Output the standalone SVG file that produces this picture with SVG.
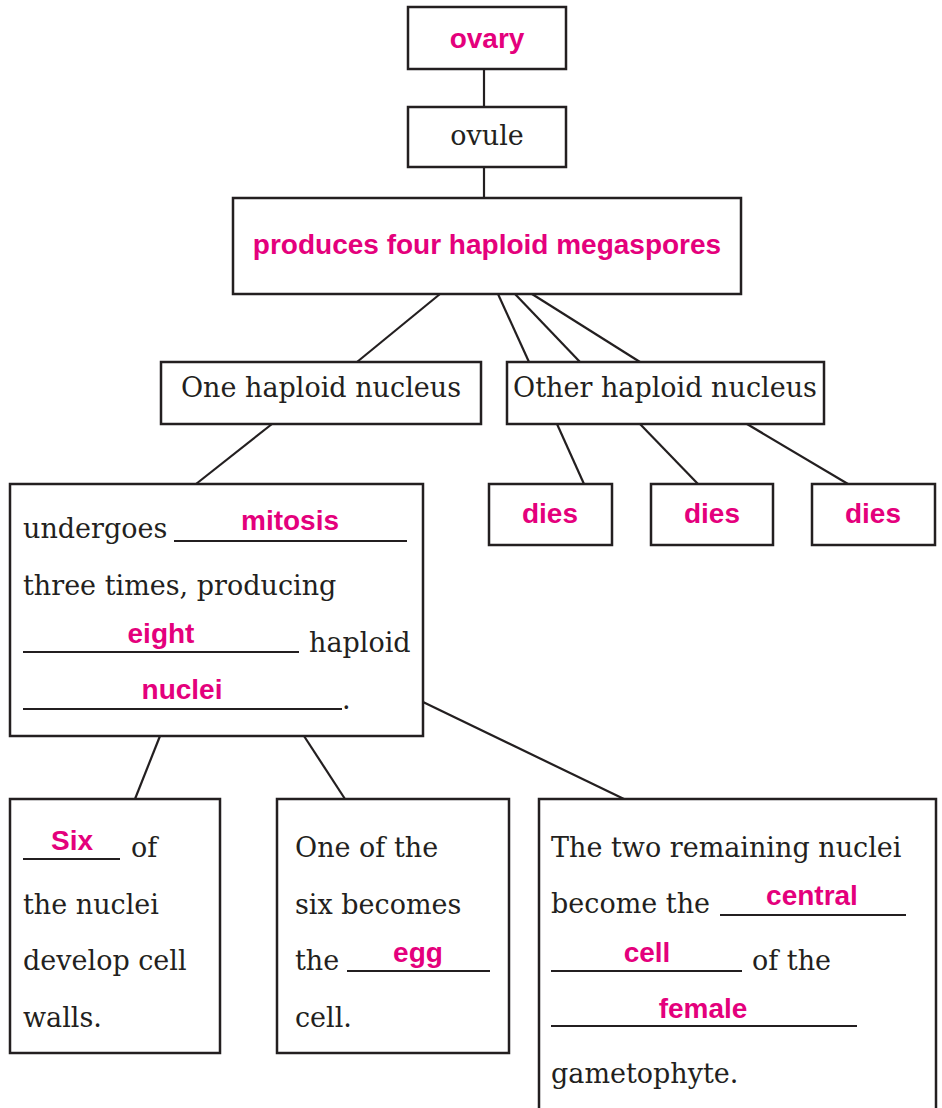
<svg xmlns="http://www.w3.org/2000/svg" width="942" height="1108" viewBox="0 0 942 1108">
<style>
.box{fill:#fff;stroke:#231f20;stroke-width:2.5}
.c line{stroke:#231f20;stroke-width:2.2}
.ul{stroke:#231f20;stroke-width:2}
.t{font-family:"DejaVu Serif",serif;font-size:27px;fill:#231f20}
.p{font-family:"Liberation Sans",Arial,sans-serif;font-size:28px;font-weight:bold;fill:#e4007c}
.m{text-anchor:middle}
</style>
<rect width="942" height="1108" fill="#fff"/>
<g class="c" id="connectors">
<line x1="484" y1="69" x2="484" y2="107"/>
<line x1="484" y1="167" x2="484" y2="198"/>
<line x1="440" y1="294" x2="357" y2="362"/>
<line x1="498" y1="294" x2="529" y2="362"/>
<line x1="515" y1="294" x2="580" y2="362"/>
<line x1="532" y1="294" x2="640" y2="362"/>
<line x1="272" y1="424" x2="196" y2="484"/>
<line x1="557" y1="424" x2="584" y2="484"/>
<line x1="640" y1="424" x2="698" y2="484"/>
<line x1="747" y1="424" x2="848" y2="484"/>
<line x1="160" y1="736" x2="135" y2="799"/>
<line x1="304" y1="736" x2="345" y2="799"/>
<line x1="423" y1="702" x2="624" y2="799"/>
</g>
<g id="ovary"><rect class="box" x="408" y="7" width="158" height="62"/><text class="p m" x="487" y="48">ovary</text></g>
<g id="ovule"><rect class="box" x="408" y="107" width="158" height="60"/><text class="t m" x="487" y="145">ovule</text></g>
<g id="megaspores"><rect class="box" x="233" y="198" width="508" height="96"/><text class="p m" x="487" y="254">produces four haploid megaspores</text></g>
<g id="one-nucleus"><rect class="box" x="161" y="362" width="320" height="62"/><text class="t m" x="321" y="397">One haploid nucleus</text></g>
<g id="other-nucleus"><rect class="box" x="507" y="362" width="317" height="62"/><text class="t m" x="665" y="397">Other haploid nucleus</text></g>
<g id="dies1"><rect class="box" x="489" y="484" width="123" height="61"/><text class="p m" x="550" y="523">dies</text></g>
<g id="dies2"><rect class="box" x="651" y="484" width="122" height="61"/><text class="p m" x="712" y="523">dies</text></g>
<g id="dies3"><rect class="box" x="812" y="484" width="123" height="61"/><text class="p m" x="873" y="523">dies</text></g>
<g id="mitosis-box"><rect class="box" x="10" y="484" width="413" height="252"/>
<text class="t" x="23" y="538">undergoes</text><line class="ul" x1="174" y1="541" x2="407" y2="541"/><text class="p m" x="290" y="530">mitosis</text>
<text class="t" x="23" y="595">three times, producing</text>
<line class="ul" x1="23" y1="652" x2="299" y2="652"/><text class="p m" x="161" y="643">eight</text><text class="t" x="309" y="652">haploid</text>
<line class="ul" x1="23" y1="709" x2="342" y2="709"/><text class="t" x="342" y="709">.</text><text class="p m" x="182" y="699">nuclei</text>
</g>
<g id="six-box"><rect class="box" x="10" y="799" width="210" height="254"/>
<line class="ul" x1="23" y1="859" x2="120" y2="859"/><text class="p m" x="72" y="850">Six</text><text class="t" x="131" y="857">of</text>
<text class="t" x="23" y="914">the nuclei</text>
<text class="t" x="23" y="970">develop cell</text>
<text class="t" x="23" y="1027">walls.</text>
</g>
<g id="egg-box"><rect class="box" x="277" y="799" width="232" height="254"/>
<text class="t" x="295" y="857">One of the</text>
<text class="t" x="295" y="914">six becomes</text>
<text class="t" x="295" y="970">the</text><line class="ul" x1="347" y1="971" x2="490" y2="971"/><text class="p m" x="418" y="962">egg</text>
<text class="t" x="295" y="1027">cell.</text>
</g>
<g id="central-box"><rect class="box" x="539" y="799" width="397" height="320"/>
<text class="t" x="551" y="857">The two remaining nuclei</text>
<text class="t" x="551" y="913">become the</text><line class="ul" x1="720" y1="915" x2="906" y2="915"/><text class="p m" x="812" y="905">central</text>
<line class="ul" x1="551" y1="971" x2="742" y2="971"/><text class="p m" x="647" y="962">cell</text><text class="t" x="752" y="970">of the</text>
<line class="ul" x1="551" y1="1026" x2="857" y2="1026"/><text class="p m" x="703" y="1018">female</text>
<text class="t" x="551" y="1083">gametophyte.</text>
</g>
</svg>
